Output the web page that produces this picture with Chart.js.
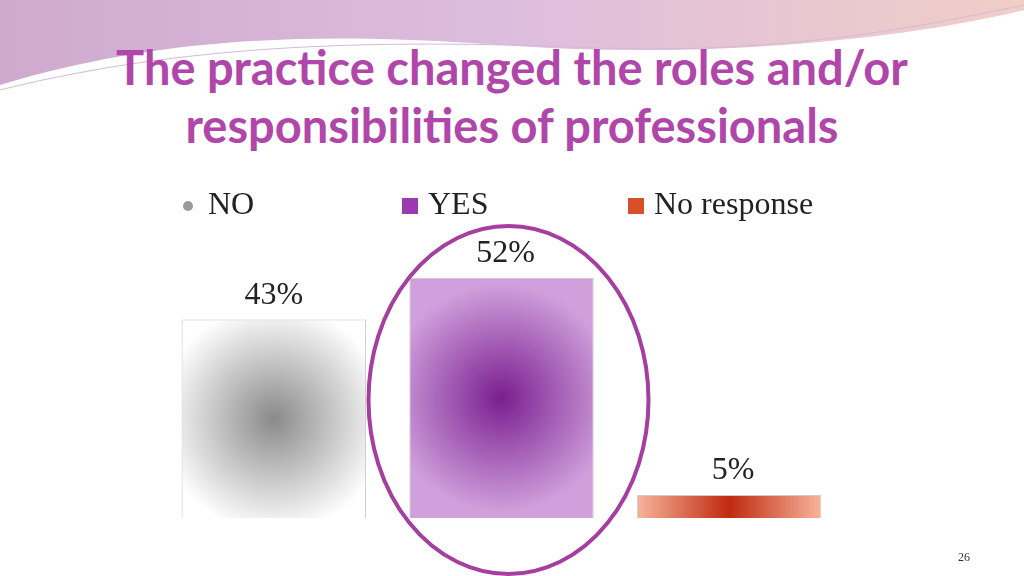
<!DOCTYPE html>
<html><head><meta charset="utf-8">
<script src="https://cdn.jsdelivr.net/npm/chart.js@4"></script>
<style>
body{margin:0;width:1024px;height:576px;overflow:hidden;background:#fff;position:relative;font-family:"Liberation Serif",serif}
#wave{position:absolute;left:0;top:0;width:1024px;height:100px}
h1{position:absolute;left:0;top:38px;width:1024px;margin:0;text-align:center;font-family:Lato,"Open Sans",sans-serif;font-weight:bold;font-size:47px;line-height:58px;color:#b046a9}
#c{position:absolute;left:0;top:0}
#pg{position:absolute;left:958px;top:550px;font-size:12px;color:#333}
</style></head><body>
<svg id="wave" viewBox="0 0 1024 100">
<defs><linearGradient id="g1" x1="0" x2="1"><stop offset="0" stop-color="#c9a0c8"/><stop offset="0.5" stop-color="#d9b6d9"/><stop offset="1" stop-color="#f0c8c0"/></linearGradient></defs>
<path d="M0 0H1024V10C900 40 700 60 500 45C300 30 150 40 0 85Z" fill="url(#g1)" opacity="0.9"/>
<path d="M0 90C200 40 400 40 600 48C800 55 950 20 1024 5" stroke="#d8b8d8" fill="none"/>
</svg>
<h1>The practice changed the roles and/or<br>responsibilities of professionals</h1>
<canvas id="c" width="1024" height="576"></canvas>
<div id="pg">26</div>
<script>
const categories=["NO","YES","No response"];
const values=[43,52,5];
const labels=["43%","52%","5%"];
const inner=["#8a8a8a","#7a1f90","#c02a10"];
const outer=["#ffffff","#d0a0dc","#f7b49c"];
const legendColors=["#9a9a9a","#9a3ab0","#d8502a"];
const deco={id:'deco',
 beforeDatasetsDraw(ch){
  const c=ch.ctx,m=ch.getDatasetMeta(0);
  m.data.forEach((el,i)=>{
    const cy=(el.y+el.base)/2, r=el.width*0.62;
    let g;
    if(i==2){g=c.createLinearGradient(el.x-el.width/2,0,el.x+el.width/2,0);
      g.addColorStop(0,outer[2]);g.addColorStop(0.5,inner[2]);g.addColorStop(1,outer[2]);}
    else{g=c.createRadialGradient(el.x,cy,0,el.x,cy,r);g.addColorStop(0,inner[i]);g.addColorStop(1,outer[i]);}
    el.options.backgroundColor=g;
  });
 },
 afterDatasetsDraw(ch){
  const c=ch.ctx,m=ch.getDatasetMeta(0);
  c.save();c.font='32px "Liberation Serif"';c.fillStyle='#222';c.textAlign='center';c.textBaseline='bottom';
  m.data.forEach((b,i)=>c.fillText(labels[i],b.x-(i==0?0:-4),b.y-8));
  c.textAlign='left';c.textBaseline='middle';
  const lx=[180,400,626];
  categories.forEach((t,i)=>{c.fillStyle=legendColors[i];
    if(i==0){c.beginPath();c.arc(lx[i]+8,206,5,0,7);c.fill();}
    else c.fillRect(lx[i]+2,198,16,16);
    c.fillStyle='#222';c.fillText(t,lx[i]+28,206);});
  const b=m.data[1];
  c.strokeStyle='#a43fa0';c.lineWidth=4;c.beginPath();c.ellipse(b.x+7,400,140,174,0,0,7);c.stroke();
  c.restore();
}};
new Chart(document.getElementById('c'),{type:'bar',
 data:{labels:categories,datasets:[{data:values,backgroundColor:inner,borderColor:'#ccc',borderWidth:1,categoryPercentage:0.81,barPercentage:1}]},
 options:{responsive:false,animation:false,
  layout:{padding:{left:160,right:181,top:241,bottom:58}},
  plugins:{legend:{display:false},tooltip:{enabled:false}},
  scales:{x:{display:false},y:{display:false,min:0,max:60}}},
 plugins:[deco]});
</script></body></html>
